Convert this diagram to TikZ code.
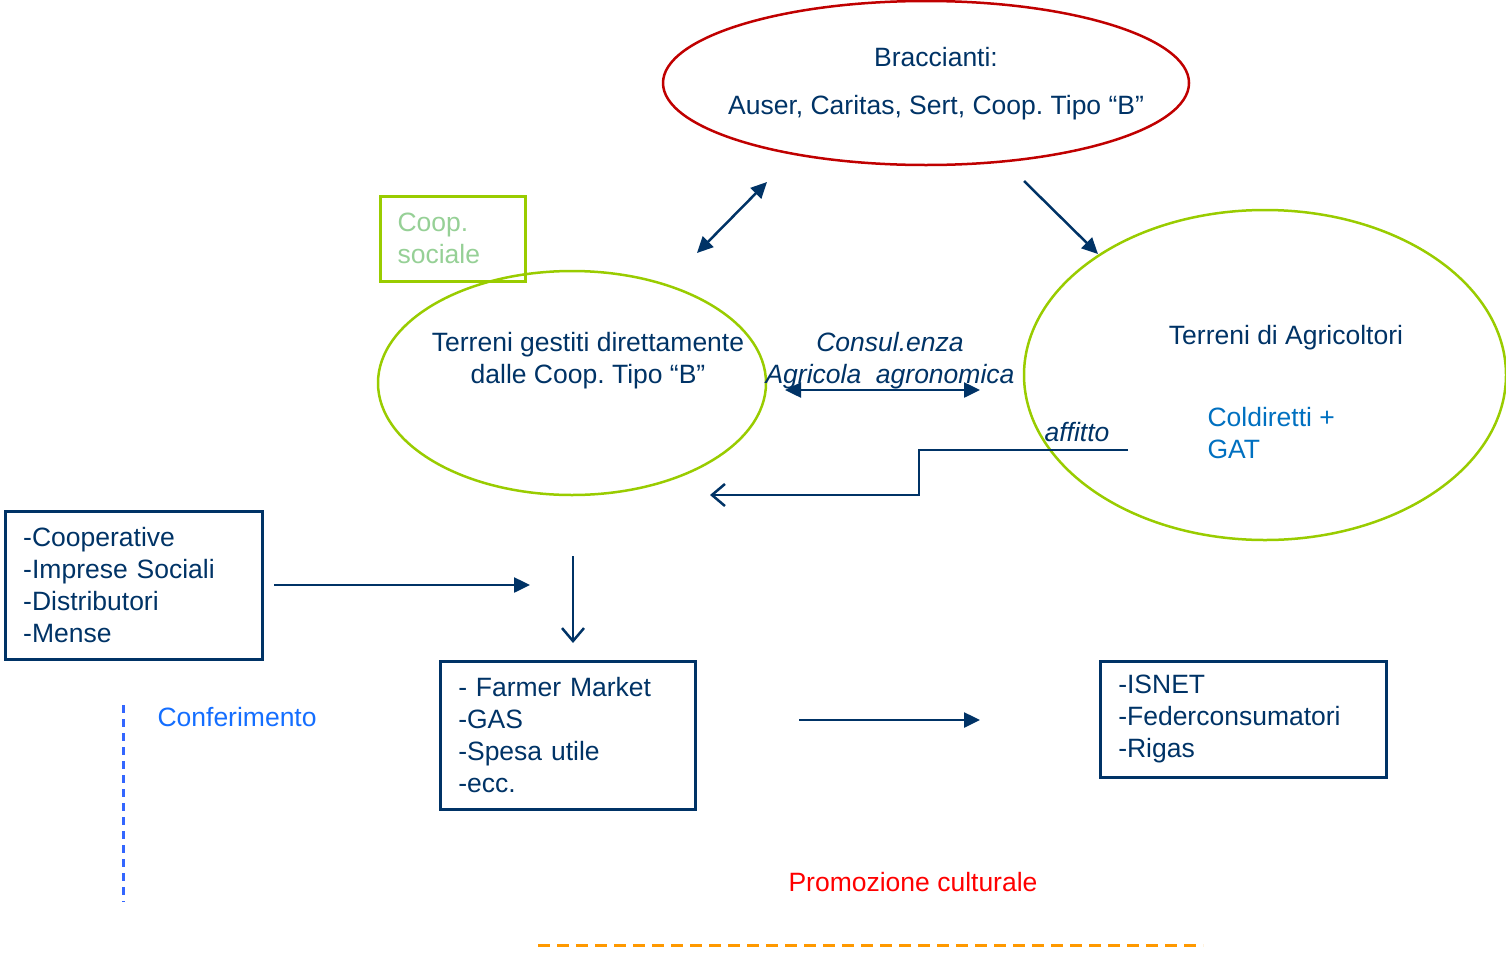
\documentclass[tikz,border=0pt]{standalone}
\usepackage{fontspec}
\setmainfont{Liberation Sans}
\frenchspacing
\usetikzlibrary{arrows.meta,shapes.geometric}
\definecolor{navy}{RGB}{0,51,102}
\definecolor{dred}{RGB}{192,0,0}
\definecolor{lgreen}{RGB}{153,204,0}
\definecolor{pgreen}{RGB}{150,208,150}
\definecolor{mblue}{RGB}{0,112,192}
\definecolor{cblue}{RGB}{20,110,255}
\definecolor{dblue}{RGB}{51,102,255}
\definecolor{orng}{RGB}{255,153,0}
\begin{document}
\frenchspacing
\begin{tikzpicture}[x=1pt,y=-1pt,
  every node/.style={font=\fontsize{26.5}{32}\selectfont, text=navy},
  oval/.style={ellipse, draw, line width=2.5pt, inner sep=0pt},
  listbox/.style={draw=navy, line width=2.5pt, anchor=north west, align=left, inner xsep=18pt, inner ysep=0pt},
  conn/.style={draw=navy, line width=2.5pt},
  solidtip/.style={-{Triangle[length=16pt,width=15pt]}},
  bothtip/.style={{Triangle[length=16pt,width=15pt]}-{Triangle[length=16pt,width=15pt]}},
  opentip/.style={-{Straight Barb[length=13pt,width=22pt,line width=2.5pt]}}]
\useasboundingbox (0,0) rectangle (1506,953);

% ellipses
\node[oval, draw=dred, minimum width=526pt, minimum height=164pt] (brac) at (926,83) {};
\node[align=center] (bractxt) at (936,84) {Braccianti:\\[16pt]Auser, Caritas, Sert, Coop. Tipo “B”};

\node[oval, draw=lgreen, minimum width=388pt, minimum height=224pt] (terb) at (572,383) {};
\node[align=center] (terbtxt) at (588,361) {Terreni gestiti direttamente\\dalle Coop. Tipo “B”};

\node[oval, draw=lgreen, minimum width=482pt, minimum height=330pt] (tera) at (1265,375) {};
\node (teratxt) at (1286,338) {Terreni di Agricoltori};
\node[anchor=west, align=left, text=mblue] (coldi) at (1204,433) {Coldiretti +\\GAT};

% coop sociale box
\node[draw=lgreen, line width=2.5pt, anchor=north west, minimum width=145pt, minimum height=85pt, inner sep=0pt] (coopbox) at (379,195) {};
\node[anchor=west, align=left, text=pgreen] (cooptxt) at (394,238) {Coop.\\sociale};

% consulenza
\node[align=center, font=\fontsize{26.5}{32}\selectfont\itshape] (cons) at (890,361) {Consul.enza\\Agricola\ \ agronomica};
\node[font=\fontsize{26.5}{32}\selectfont\itshape] (aff) at (1077,432) {affitto};

% boxes
\node[listbox, text width=221pt, minimum height=148pt] (b1) at (4,510) {-Cooperative\\-Imprese Sociali\\-Distributori\\-Mense};
\node[listbox, text width=219pt, minimum height=148pt] (b2) at (439,660) {- Farmer Market\\-GAS\\-Spesa utile\\-ecc.};
\node[listbox, text width=250pt, minimum height=116pt] (b3) at (1099,660) {-ISNET\\-Federconsumatori\\-Rigas};

\node[anchor=west, text=cblue] (conf) at (154,717) {Conferimento};
\node[text=red] (promo) at (913,882) {Promozione culturale};

% connector coordinates
\coordinate (a1s) at (697,253);
\coordinate (a1e) at (767,182);
\coordinate (a2s) at (1024,181);
\coordinate (a2e) at (1098,254);
\coordinate (a3s) at (785,390);
\coordinate (a3e) at (980,390);
\coordinate (a4s) at (1128,450);
\coordinate (a4m) at (919,495);
\coordinate (a4e) at (710,495);
\coordinate (a5s) at (274,585);
\coordinate (a5e) at (530,585);
\coordinate (a6s) at (573,556);
\coordinate (a6e) at (573,643);
\coordinate (a7s) at (799,720);
\coordinate (a7e) at (980,720);
\coordinate (d1s) at (123,705);
\coordinate (d1e) at (123,902);
\coordinate (d2s) at (538,945);
\coordinate (d2e) at (1203,945);

\draw[conn, bothtip] (a1s) -- (a1e);
\draw[conn, solidtip] (a2s) -- (a2e);
\draw[conn, bothtip] (a3s) -- (a3e);
\draw[conn, opentip] (a4s) -| (a4m) -- (a4e);
\draw[conn, solidtip] (a5s) -- (a5e);
\draw[conn, opentip] (a6s) -- (a6e);
\draw[conn, solidtip] (a7s) -- (a7e);

\draw[draw=dblue, line width=3pt, dash pattern=on 8pt off 6pt] (d1s) -- (d1e);
\draw[draw=orng, line width=3pt, dash pattern=on 12pt off 7pt] (d2s) -- (d2e);
\end{tikzpicture}
\end{document}
